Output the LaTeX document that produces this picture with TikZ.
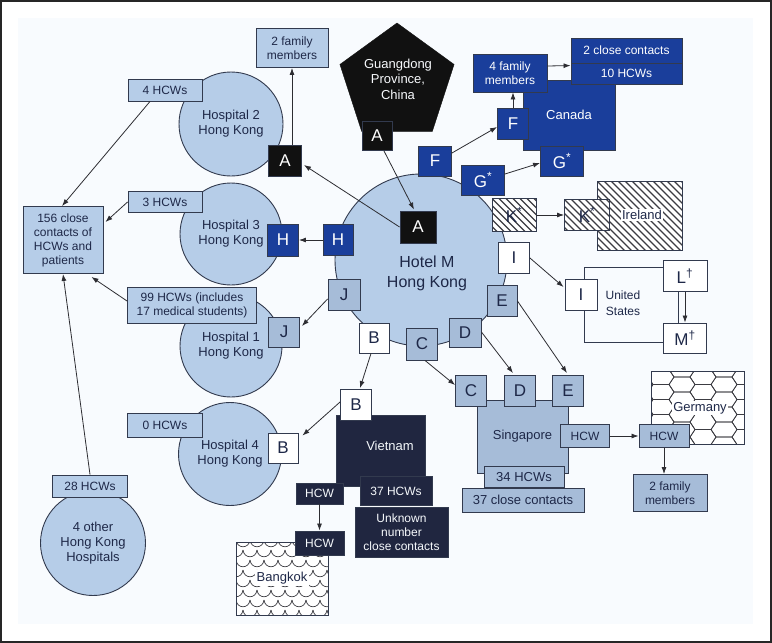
\documentclass[tikz,border=0pt]{standalone}
\usepackage{fontspec}
\setmainfont{Liberation Sans}
\usetikzlibrary{shapes.geometric,arrows.meta,calc}
\definecolor{lb}{RGB}{182,205,232}
\definecolor{mb}{RGB}{166,188,216}
\definecolor{bd}{RGB}{50,58,78}
\definecolor{tx}{RGB}{30,40,72}
\definecolor{cb}{RGB}{26,62,155}
\definecolor{nv}{RGB}{32,38,64}
\definecolor{bk}{RGB}{17,17,17}
\definecolor{bgc}{RGB}{248,251,254}
\definecolor{ln}{RGB}{45,45,50}
\definecolor{pt}{RGB}{60,60,66}
\begin{document}
\begin{tikzpicture}[x=1pt,y=-1pt,
  boxbase/.style={draw=bd, line width=0.9pt, inner sep=0pt, align=center, font=\fontsize{12}{14}\selectfont},
  lbox/.style={boxbase, fill=lb, text=tx},
  mbox/.style={boxbase, fill=mb, text=tx},
  wbox/.style={boxbase, fill=white, text=tx},
  kbox/.style={boxbase, fill=bk, text=white},
  cbox/.style={boxbase, fill=cb, text=white},
  nbox/.style={boxbase, fill=nv, text=white!88!lb},
  sz/.style 2 args={minimum width=#1pt, minimum height=#2pt},
  letr/.style={font=\fontsize{17}{17}\selectfont},
  bigf/.style={font=\fontsize{13}{15.5}\selectfont},
  hosp/.style={circle, draw=bd, line width=0.9pt, fill=lb, text=tx, inner sep=0pt, align=center, font=\fontsize{13}{15}\selectfont},
  arr/.style={draw=ln, line width=0.8pt, -{Latex[length=7pt,width=5pt]}},
  lbl/.style={fill=white, inner sep=1.5pt, text=tx, font=\fontsize{13}{15}\selectfont},
  hatchfill/.style={path picture={
    \foreach \t in {-84,-77,...,100}
      \draw[line width=1.2pt, draw=pt] ($(path picture bounding box.north west)+(\t,0)$) -- ++(80,80);
  }},
  hexpat/.style={path picture={
    \foreach \i in {-1,...,3} \foreach \j in {-1,...,5} \foreach \o in {0,1} {
      \draw[line width=0.7pt, draw=pt] ($(path picture bounding box.north west)+(42*\i+21*\o+10, 15*\j+7.5*\o+6)$)
        ++(-13,0) -- ++(5,-7.5) -- ++(16,0) -- ++(5,7.5) -- ++(-5,7.5) -- ++(-16,0) -- cycle;
    }
  }},
  scalepat/.style={path picture={
    \foreach \j in {0,...,8} \foreach \i in {-1,...,7} {
      \pgfmathsetmacro\ox{14*\i + 7*mod(\j,2)}
      \pgfmathsetmacro\oy{10*\j-2}
      \draw[line width=0.7pt, draw=pt] ($(path picture bounding box.north west)+(\ox,\oy)$)
        .. controls ($(path picture bounding box.north west)+(\ox+1,\oy+9)$) and ($(path picture bounding box.north west)+(\ox+13,\oy+9)$)
        .. ($(path picture bounding box.north west)+(\ox+14,\oy)$);
    }
  }}
]
\useasboundingbox (0,0) rectangle (772,643);
\fill[bgc] (18,18) rectangle (753,624);
\draw[line width=2pt, draw=black!85] (1,1) rectangle (771,642);

% circles
\node[hosp, minimum size=172pt] (hotel) at (421,260) {};
\node[font=\fontsize{16}{20}\selectfont, text=tx, align=center] (hoteltxt) at (427,273) {Hotel M\\Hong Kong};
\node[hosp, minimum size=104pt] (hosp2) at (231,124) {Hospital 2\\Hong Kong};
\node[hosp, minimum size=102pt] (hosp3) at (231,234) {Hospital 3\\Hong Kong};
\node[hosp, minimum size=102pt] (hosp1) at (231,346) {Hospital 1\\Hong Kong};
\node[hosp, minimum size=103pt] (hosp4) at (230,454) {Hospital 4\\Hong Kong};
\node[hosp, minimum size=105pt] (other) at (93,543) {4 other\\Hong Kong\\Hospitals};

% Guangdong
\node[regular polygon, regular polygon sides=5, minimum size=120pt, fill=bk, draw=bk, inner sep=0pt] (guang) at (397,83) {};
\node[text=white!90!lb, align=center, font=\fontsize{13}{15.5}\selectfont] (guangtxt) at (398,79) {Guangdong\\Province,\\China};
\node[kbox, letr, sz={30}{29}] (Apent) at (377,136) {A};

% left boxes
\node[lbox, sz={72}{39}] (fam2) at (292,48) {2 family\\members};
\node[lbox, sz={74}{22}] (hcw4) at (165,90) {4 HCWs};
\node[lbox, sz={74}{21}] (hcw3) at (165,202) {3 HCWs};
\node[lbox, sz={129}{36}] (hcw99) at (192,305) {99 HCWs (includes\\17 medical students)};
\node[lbox, sz={75}{24}] (hcw0) at (165,425) {0 HCWs};
\node[lbox, sz={75}{22}] (hcw28) at (90,486) {28 HCWs};
\node[lbox, sz={80}{67}] (close156) at (63,240) {156 close\\contacts of\\HCWs and\\patients};

% hospital letter squares
\node[kbox, letr, sz={33}{31}] (Ahosp2) at (285,161) {A};
\node[cbox, letr, sz={31}{32}] (Hhosp3) at (283,240) {H};
\node[mbox, letr, sz={31}{30}] (Jhosp1) at (284,332) {J};
\node[wbox, letr, sz={30}{30}] (Bhosp4) at (283,448) {B};

% hotel squares
\node[kbox, letr, sz={36}{32}] (Ahotel) at (418,227) {A};
\node[cbox, letr, sz={30}{31}] (Hhotel) at (338,240) {H};
\node[mbox, letr, sz={32}{31}] (Jhotel) at (344,295) {J};
\node[wbox, letr, sz={30}{30}] (Bhotel) at (374,338) {B};
\node[mbox, letr, sz={31}{32}] (Chotel) at (422,344) {C};
\node[mbox, letr, sz={32}{29}] (Dhotel) at (465,333) {D};
\node[mbox, letr, sz={30}{31}] (Ehotel) at (502,301) {E};
\node[wbox, letr, sz={31}{31}] (Ihotel) at (514,258) {I};
\node[wbox, hatchfill, letr, sz={44}{33}] (Khotel) at (514,215) {K\textsuperscript{*}};
\node[cbox, letr, sz={43}{30}] (Ghotel) at (483,180) {G\textsuperscript{*}};
\node[cbox, letr, sz={33}{30}] (Fhotel) at (435,161) {F};

% Canada
\node[cbox, bigf, sz={92}{70}] (canada) at (569,115) {Canada};
\node[cbox, sz={74}{38}] (fam4) at (510,73) {4 family\\members};
\node[cbox, sz={111}{25}] (cc2) at (626.5,50.5) {2 close contacts};
\node[cbox, sz={111}{21}] (hcw10) at (626.5,73.5) {10 HCWs};
\node[cbox, letr, sz={31}{31}] (Fcan) at (513,124) {F};
\node[cbox, letr, sz={43}{30}] (Gcan) at (562,161) {G\textsuperscript{*}};

% Ireland
\node[boxbase, fill=white, hatchfill, sz={85}{69}] (ireland) at (639.5,215.5) {};
\node[lbl] (irelandtxt) at (642,215) {Ireland};
\node[wbox, hatchfill, letr, sz={45}{31}] (Kire) at (587,215) {K\textsuperscript{*}};

% United States
\node[draw=bd, line width=0.9pt, inner sep=0pt, sz={94}{75}] (usa) at (631,304.5) {};
\node[text=tx, align=center, font=\fontsize{12}{16}\selectfont] (usatxt) at (623,303.5) {United\\States};
\node[wbox, letr, sz={32}{31}] (Ius) at (581,295) {I};
\node[wbox, letr, sz={44}{31}] (Lus) at (685,276) {L\textsuperscript{†}};
\node[wbox, letr, sz={43}{30}] (Mus) at (685,338) {M\textsuperscript{†}};

% Singapore
\node[mbox, bigf, sz={91}{73}] (singapore) at (522.5,436.5) {Singapore};
\node[mbox, letr, sz={31}{31}] (Csg) at (471,391) {C};
\node[mbox, letr, sz={31}{31}] (Dsg) at (520,391) {D};
\node[mbox, letr, sz={31}{31}] (Esg) at (568,391) {E};
\node[mbox, sz={49}{23}] (HCWsg) at (585,436) {HCW};
\node[mbox, bigf, sz={80}{21}] (hcw34) at (524,477) {34 HCWs};
\node[mbox, bigf, sz={122}{24}] (cc37) at (523,500) {37 close contacts};

% Germany
\node[boxbase, fill=white, hexpat, sz={93}{73}] (germany) at (697.5,407.5) {};
\node[lbl] (gertxt) at (700,408) {Germany};
\node[mbox, sz={50}{23}] (HCWger) at (664,436) {HCW};
\node[mbox, sz={74}{37}] (fam2g) at (670,493) {2 family\\members};

% Vietnam
\node[nbox, sz={89}{71}] (vietnam) at (380.5,450.5) {};
\node[text=white!85!lb, bigf] (viettxt) at (390,446) {Vietnam};
\node[wbox, letr, sz={31}{31}] (Bviet) at (356,405) {B};
\node[nbox, sz={72}{29}] (hcw37) at (396,491) {37 HCWs};
\node[nbox, sz={93}{50}] (unk) at (401.5,532) {Unknown\\number\\close contacts};
\node[nbox, sz={47}{21}] (HCWv1) at (319.5,493.5) {HCW};

% Bangkok
\node[boxbase, fill=white, scalepat, sz={92}{73}] (bangkok) at (282,578.5) {};
\node[lbl] (bkktxt) at (282,578) {Bangkok};
\node[nbox, sz={49}{24}] (HCWv2) at (319.5,543) {HCW};

% connectors
\draw[arr] (Ahotel.west) -- ($(Ahosp2.east)+(2,4)$);
\draw[arr] ($(Apent.south)+(7,0)$) -- ($(Ahotel.north)+(-4,-1)$);
\draw[arr] (Ahosp2.north -| fam2.south) -- (fam2.south);
\draw[arr] (Hhotel.west) -- (Hhosp3.east);
\draw[arr] ($(Jhotel.west)+(0,4)$) -- ($(Jhosp1.east)+(2,-6)$);
\draw[arr] ($(Bhotel.south)+(-3,0)$) -- ($(Bviet.north)+(4,-1)$);
\draw[arr] ($(Bviet.west)+(0,-3)$) -- ($(Bhosp4.north east)+(4,3)$);
\draw[arr] ($(Chotel.south)+(3,0)$) -- ($(Csg.west)+(0,-6)$);
\draw[arr] ($(Dhotel.east)+(0,-1)$) -- ($(Dsg.north)+(-7,-2)$);
\draw[arr] (Ehotel.east) -- ($(Esg.north)+(-1,-2)$);
\draw[arr] (Ihotel.east) -- ($(Ius.west)+(-1,-8)$);
\draw[arr] (Khotel.east) -- (Kire.west);
\draw[arr] ($(Fhotel.east)+(0,-8)$) -- ($(Fcan.west)+(0,3)$);
\draw[arr] ($(Ghotel.east)+(0,-6)$) -- ($(Gcan.west)+(0,2)$);
\draw[arr] (Fcan.north) -- (Fcan.north |- fam4.south);
\draw[arr] ($(fam4.east)+(0,-7)$) -- ($(hcw10.north west)+(0,3)$);
\draw[arr] (Lus.south) -- (Mus.north);
\draw[arr] (HCWsg.east) -- (HCWger.west);
\draw[arr] (HCWger.south) -- (HCWger.south |- fam2g.north);
\draw[arr] (HCWv1.south) -- (HCWv2.north);
\draw[arr] ($(hcw4.south)+(-15,0)$) -- ($(close156.north)+(-1,0)$);
\draw[arr] (hcw3.west) -- ($(close156.east)+(2,-18)$);
\draw[arr] ($(hcw99.west)+(0,-4)$) -- ($(close156.south east)+(-12,3)$);
\draw[arr] (hcw28.north) -- (close156.south);
\end{tikzpicture}
\end{document}
